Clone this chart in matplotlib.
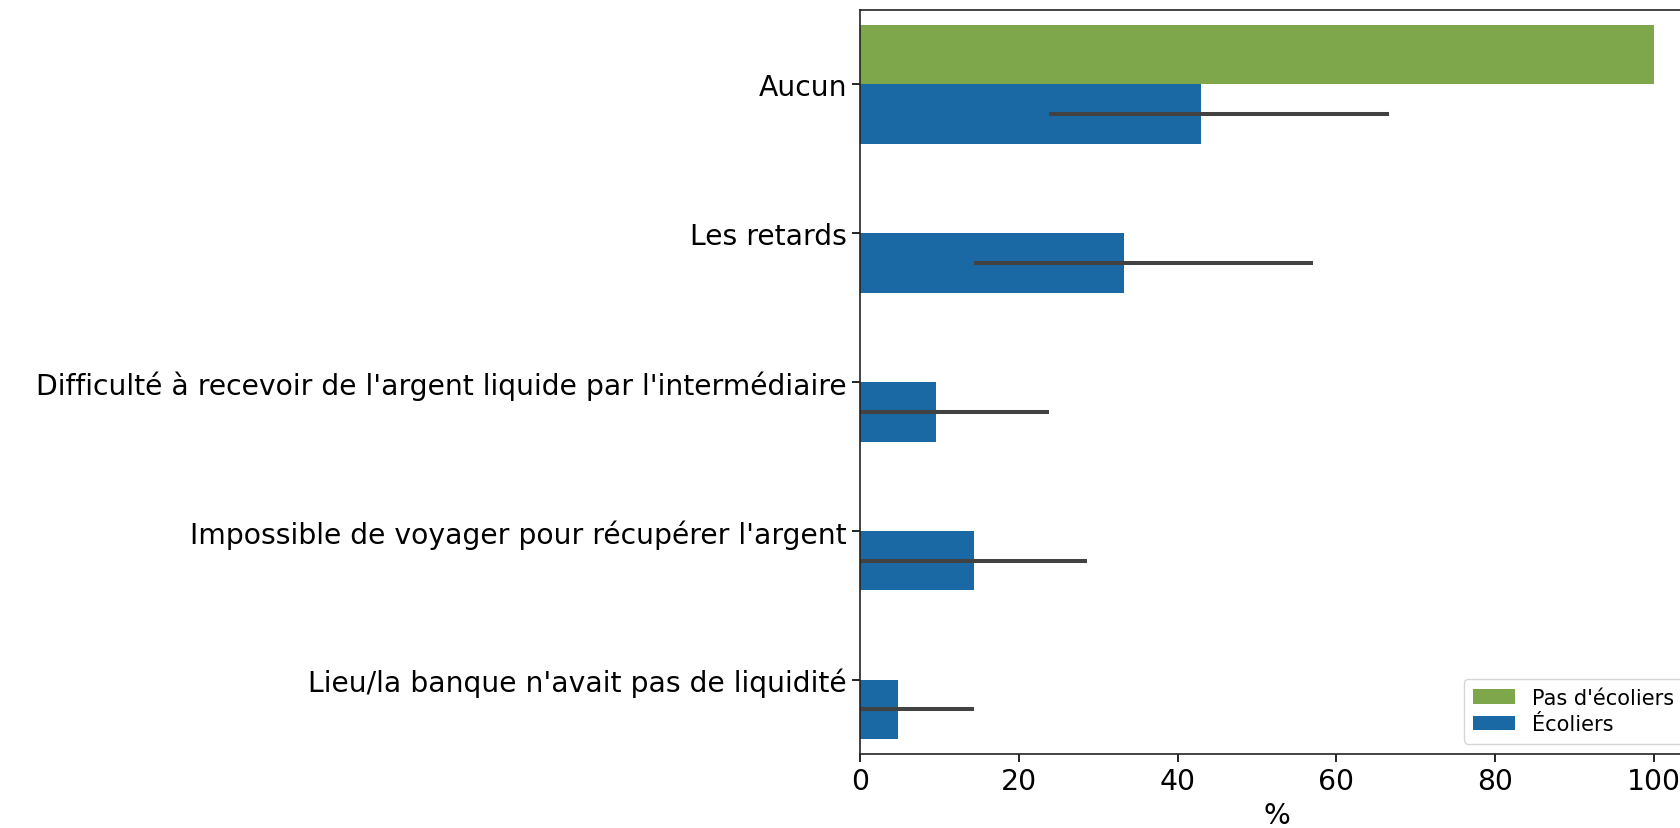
import matplotlib
matplotlib.use("Agg")
import matplotlib.pyplot as plt
import numpy as np

# data (percent)
categories = [
    "Aucun",
    "Les retards",
    "Difficulté à recevoir de l'argent liquide par l'intermédiaire",
    "Impossible de voyager pour récupérer l'argent",
    "Lieu/la banque n'avait pas de liquidité",
]
groups = ["Pas d'écoliers", "Écoliers"]
colors = ["#7ea64a", "#1a69a4"]

pas_ecoliers = [100.0, 0.0, 0.0, 0.0, 0.0]
ecoliers = [42.9, 33.3, 9.5, 14.3, 4.8]
ecoliers_lo = [23.8, 14.3, 0.0, 0.0, 0.0]
ecoliers_hi = [66.7, 57.1, 23.8, 28.6, 14.3]

fig = plt.figure(figsize=(16.8, 8.29), dpi=100)
ax = fig.add_axes([0.512, 0.0893, 0.496, 0.8974])

y = np.arange(len(categories))
h = 0.4
ax.barh(y - h / 2, pas_ecoliers, height=h, color=colors[0], label=groups[0])
ax.barh(y + h / 2, ecoliers, height=h, color=colors[1], label=groups[1])

# confidence intervals (seaborn style)
for yi, lo, hi in zip(y + h / 2, ecoliers_lo, ecoliers_hi):
    ax.plot([lo, hi], [yi, yi], color="#424242", lw=2.9, solid_capstyle="butt")

ax.set_yticks(y)
ax.set_yticklabels(categories)
ax.set_ylim(len(categories) - 0.5, -0.5)
ax.set_xlim(0, 105)
ax.set_xticks([0, 20, 40, 60, 80, 100])
ax.set_xlabel("%", fontsize=20.3)
ax.tick_params(labelsize=20.3, length=6, width=1.2)

for side in ["top", "right", "left", "bottom"]:
    ax.spines[side].set_linewidth(1.2)
    ax.spines[side].set_color("#222222")

ax.legend(loc="lower right", fontsize=15, handlelength=2.0, borderpad=0.45,
          labelspacing=0.3, framealpha=0.8)

fig.savefig("out.png", dpi=100)
